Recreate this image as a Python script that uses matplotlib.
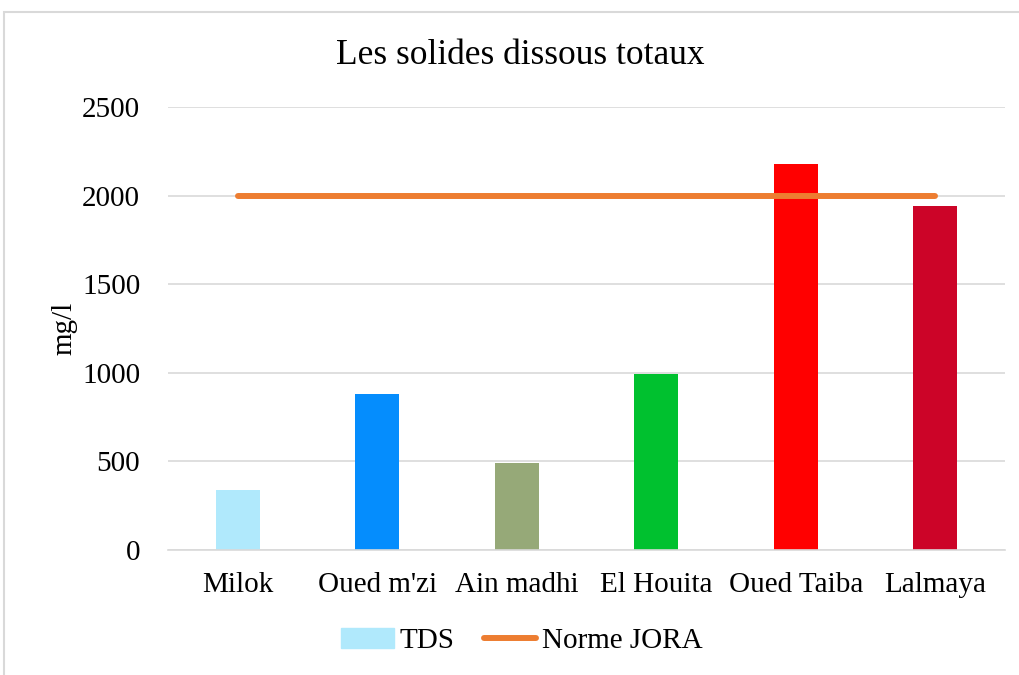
import matplotlib
matplotlib.use('Agg')
import matplotlib.pyplot as plt
import numpy as np
from matplotlib.patches import Rectangle, Patch
from matplotlib.lines import Line2D

plt.rcParams['font.family'] = ['Liberation Serif', 'DejaVu Serif']

# data
sites = ['Milok', "Oued m'zi", 'Ain madhi', 'El Houita', 'Oued Taiba', 'Lalmaya']
tds = [340, 880, 490, 995, 2180, 1940]
norme = [2000, 2000, 2000, 2000, 2000, 2000]
colors = ['#B0E9FC', '#058DFD', '#96A978', '#00C12F', '#FF0000', '#CC0428']

fig = plt.figure(figsize=(10.2, 6.75), dpi=100)
# outer chart border
fig.patches.append(Rectangle((4/1020, -0.1), 1.2, 1 - 12/675 + 0.1,
                             transform=fig.transFigure, fill=False,
                             edgecolor='#D9D9D9', linewidth=1.5))

ax = fig.add_axes([168/1020, 1 - 550/675, (1005 - 168)/1020, (550 - 107)/675])
x = np.arange(len(sites))
ax.bar(x, tds, width=0.315, color=colors, zorder=2)
ax.plot(x, norme, color='#ED7D31', linewidth=4.3, solid_capstyle='round', zorder=3)

ax.set_xlim(-0.5, len(sites) - 0.5)
ax.set_ylim(0, 2500)
ax.set_yticks(np.arange(0, 2501, 500))
ax.set_xticks(x)
ax.set_xticklabels(sites)
ax.tick_params(axis='both', length=0, labelsize=21)
ax.tick_params(axis='x', pad=16)
ax.tick_params(axis='y', pad=20)
ax.grid(axis='y', color='#D9D9D9', linewidth=1.2, zorder=0)
for s in ['top', 'right', 'left']:
    ax.spines[s].set_visible(False)
ax.spines['bottom'].set_color('#D9D9D9')
ax.spines['bottom'].set_linewidth(1.2)
ax.set_ylabel('mg/l', fontsize=21, labelpad=3)

fig.text(520/1020, 1 - 55/675, 'Les solides dissous totaux', fontsize=25.5,
         ha='center', va='center')

handles = [Patch(color=colors[0], label='TDS'),
           Line2D([0], [0], color='#ED7D31', linewidth=4.3,
                  solid_capstyle='round', label='Norme JORA')]
fig.legend(handles=handles, loc='center', bbox_to_anchor=(522/1020, 1 - 641/675),
           ncol=2, frameon=False, fontsize=21, handlelength=1.8,
           handletextpad=0.2, columnspacing=1.0)

fig.savefig('out.png', dpi=100)
